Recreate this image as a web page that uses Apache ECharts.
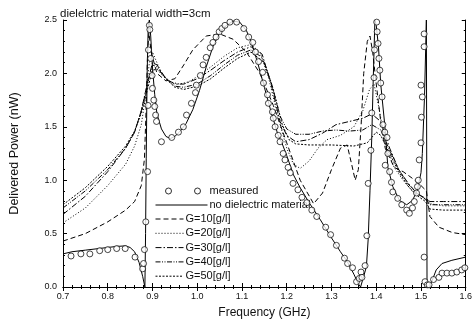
<!DOCTYPE html>
<html><head><meta charset="utf-8">
<script src="https://cdn.jsdelivr.net/npm/echarts@6/dist/echarts.min.js"></script>
<style>html,body{margin:0;padding:0;background:#fff}#c{width:475px;height:327px}</style>
</head><body><div id="c"></div>
<script>
const titleText = "dielelctric material width=3cm";
const xTicks = [0.7,0.8,0.9,1.0,1.1,1.2,1.3,1.4,1.5,1.6];
const yTicks = [0.0,0.5,1.0,1.5,2.0,2.5];

const fMeas = [0.718,0.74,0.76,0.782,0.80,0.82,0.839,0.861,0.878,0.880,0.882,0.885,0.889,0.890,0.891,0.893,0.894,0.896,0.899,0.900,0.903,0.905,0.907,0.909,0.920,0.943,0.958,0.969,0.976,0.987,0.996,0.998,1.007,1.013,1.020,1.029,1.035,1.042,1.049,1.055,1.062,1.073,1.088,1.104,1.115,1.124,1.130,1.137,1.146,1.148,1.157,1.159,1.168,1.170,1.174,1.181,1.185,1.192,1.196,1.203,1.208,1.214,1.225,1.234,1.245,1.256,1.267,1.287,1.298,1.311,1.329,1.336,1.347,1.356,1.362,1.366,1.368,1.375,1.379,1.382,1.388,1.390,1.395,1.396,1.401,1.402,1.404,1.406,1.408,1.410,1.413,1.415,1.419,1.424,1.426,1.420,1.430,1.434,1.437,1.448,1.457,1.468,1.474,1.481,1.485,1.490,1.492,1.494,1.496,1.500,1.501,1.500,1.503,1.507,1.507,1.507,1.509,1.514,1.518,1.528,1.540,1.547,1.558,1.569,1.580,1.591,1.598];
const pMeas = [0.29,0.31,0.31,0.34,0.35,0.36,0.36,0.28,0.17,0.22,0.35,0.61,1.08,1.70,2.22,2.45,2.41,2.14,1.98,1.86,1.75,1.69,1.61,1.55,1.36,1.40,1.45,1.50,1.61,1.72,1.82,1.89,1.98,2.08,2.15,2.24,2.29,2.34,2.39,2.42,2.45,2.48,2.48,2.42,2.34,2.29,2.20,2.11,2.01,1.91,1.80,1.72,1.64,1.58,1.50,1.42,1.36,1.25,1.19,1.12,1.07,0.97,0.91,0.84,0.79,0.72,0.66,0.56,0.49,0.39,0.27,0.22,0.18,0.05,0.08,0.14,0.09,0.20,0.48,0.97,1.28,1.63,1.96,2.22,2.48,2.39,2.28,2.14,2.03,1.91,1.78,1.52,1.45,1.40,1.25,1.14,1.08,0.98,0.89,0.83,0.77,0.72,0.69,0.74,0.80,0.88,0.94,1.00,1.19,1.35,1.59,1.89,1.78,2.25,2.37,0.28,0.05,0.02,0.02,0.07,0.09,0.13,0.13,0.13,0.14,0.16,0.18];

const fNone = [0.70,0.72,0.75,0.78,0.80,0.82,0.84,0.85,0.86,0.87,0.878,0.883,0.8845,0.886,0.888,0.8905,0.893,0.896,0.90,0.905,0.91,0.92,0.93,0.94,0.95,0.96,0.975,0.99,1.005,1.02,1.035,1.05,1.065,1.08,1.095,1.11,1.12,1.135,1.15,1.165,1.18,1.19,1.20,1.215,1.23,1.25,1.275,1.30,1.32,1.335,1.35,1.36,1.365,1.372,1.378,1.382,1.386,1.39,1.393,1.397,1.40,1.405,1.41,1.419,1.426,1.437,1.452,1.468,1.481,1.492,1.50,1.503,1.508,1.512,1.5135,1.523,1.534,1.547,1.569,1.60];
const pNone = [0.31,0.33,0.345,0.36,0.37,0.38,0.385,0.37,0.33,0.23,0.10,0.0,0.5,1.2,2.0,2.45,2.5,2.35,2.05,1.80,1.62,1.48,1.41,1.39,1.41,1.45,1.53,1.66,1.84,2.06,2.25,2.38,2.45,2.49,2.48,2.40,2.30,2.10,1.87,1.64,1.43,1.34,1.23,1.05,0.93,0.79,0.63,0.46,0.33,0.24,0.12,0.03,0.0,0.10,0.19,0.45,0.90,1.40,1.90,2.5,2.45,2.25,1.90,1.52,1.12,0.94,0.81,0.77,0.81,0.91,1.07,1.25,1.8,2.5,0.0,0.04,0.16,0.22,0.25,0.28];

const fG10 = [0.70,0.75,0.80,0.84,0.86,0.875,0.882,0.886,0.889,0.892,0.897,0.91,0.93,0.95,0.97,0.99,1.02,1.05,1.08,1.11,1.14,1.17,1.20,1.23,1.26,1.28,1.30,1.32,1.335,1.345,1.353,1.36,1.366,1.372,1.38,1.386,1.392,1.40,1.41,1.42,1.44,1.46,1.48,1.50,1.512,1.52,1.54,1.57,1.60];
const pG10 = [0.43,0.50,0.61,0.72,0.80,0.95,1.20,1.70,2.20,2.38,2.20,2.00,1.93,1.95,2.08,2.22,2.35,2.37,2.32,2.20,2.00,1.70,1.35,1.00,0.78,0.88,1.10,1.30,1.33,1.15,1.00,1.10,1.50,2.00,2.30,2.35,2.20,1.90,1.55,1.30,1.12,1.08,1.02,0.95,0.90,0.66,0.56,0.51,0.49];

const fG20 = [0.70,0.75,0.80,0.84,0.86,0.875,0.885,0.893,0.90,0.92,0.94,0.96,0.98,1.00,1.03,1.06,1.09,1.12,1.14,1.16,1.18,1.20,1.215,1.23,1.25,1.27,1.29,1.32,1.35,1.37,1.385,1.395,1.405,1.42,1.44,1.46,1.48,1.50,1.512,1.52,1.55,1.60];
const pG20 = [0.60,0.74,0.95,1.15,1.32,1.52,1.80,2.10,2.20,2.00,1.92,1.90,1.92,1.97,2.06,2.16,2.24,2.27,2.20,1.95,1.60,1.30,1.15,1.11,1.18,1.30,1.38,1.42,1.50,1.65,1.85,1.90,1.70,1.35,1.12,1.00,0.90,0.85,0.82,0.78,0.76,0.76];

const fG30 = [0.70,0.75,0.80,0.84,0.86,0.875,0.888,0.90,0.91,0.93,0.95,0.97,1.00,1.03,1.06,1.09,1.12,1.145,1.165,1.185,1.20,1.22,1.25,1.28,1.31,1.34,1.37,1.39,1.41,1.43,1.45,1.47,1.49,1.51,1.52,1.55,1.60];
const pG30 = [0.68,0.85,1.08,1.30,1.45,1.65,1.90,2.10,2.08,1.95,1.90,1.90,1.95,2.03,2.12,2.20,2.25,2.18,1.90,1.55,1.42,1.36,1.38,1.44,1.52,1.55,1.58,1.62,1.55,1.30,1.10,0.98,0.88,0.83,0.80,0.80,0.80];

const fG40 = [0.70,0.75,0.80,0.84,0.86,0.875,0.888,0.90,0.91,0.93,0.95,0.97,1.00,1.03,1.06,1.09,1.12,1.145,1.165,1.185,1.20,1.22,1.25,1.28,1.31,1.34,1.37,1.39,1.41,1.43,1.45,1.47,1.49,1.51,1.52,1.55,1.60];
const pG40 = [0.74,0.90,1.10,1.30,1.45,1.65,1.88,2.08,2.06,1.95,1.88,1.87,1.90,1.98,2.08,2.17,2.22,2.15,1.92,1.60,1.48,1.43,1.43,1.46,1.47,1.46,1.47,1.52,1.47,1.28,1.10,0.97,0.88,0.82,0.77,0.77,0.77];

const fG50 = [0.70,0.75,0.80,0.84,0.86,0.875,0.888,0.90,0.91,0.93,0.95,0.97,1.00,1.03,1.06,1.09,1.12,1.15,1.17,1.19,1.205,1.22,1.25,1.30,1.35,1.38,1.40,1.41,1.43,1.45,1.47,1.49,1.51,1.52,1.55,1.60];
const pG50 = [0.77,0.93,1.13,1.32,1.46,1.63,1.84,2.03,2.04,1.95,1.87,1.85,1.88,1.95,2.05,2.14,2.20,2.10,1.85,1.52,1.38,1.34,1.33,1.33,1.32,1.35,1.45,1.42,1.25,1.08,0.95,0.86,0.80,0.73,0.72,0.72,0.72];

const pair = (f, p) => f.map((v, i) => [v, p[i]]);
const font = 'Liberation Sans, Arial, sans-serif';

function lineSeries(name, f, p, dash) {
  return { name, type: 'line', data: pair(f, p), symbol: 'none', showSymbol: false,
    lineStyle: { color: '#000', width: 1, type: dash }, itemStyle: { color: '#000' },
    animation: false, z: 3 };
}
const lineItem = name => ({ name, itemStyle: { opacity: 0 }, lineStyle: { width: 1 } });
const twoCircles = 'path://M0,0M52,9M10,4.5a3,3 0 1,0 6,0a3,3 0 1,0 -6,0M39,4.5a3,3 0 1,0 6,0a3,3 0 1,0 -6,0';

const chart = echarts.init(document.getElementById('c'), null, { renderer: 'canvas' });
const axisCommon = {
  axisLine: { show: true, lineStyle: { color: '#000', width: 1 } },
  axisTick: { show: true, inside: true, length: 4, lineStyle: { color: '#000' } },
  minorTick: { show: true, splitNumber: 5, length: 2, lineStyle: { color: '#000' } },
  splitLine: { show: false }
};
const legendText = { fontFamily: font, fontSize: 11, lineHeight: 12, color: '#111', padding: [0,0,0,-3] };
chart.setOption({
  animation: false,
  backgroundColor: '#fff',
  title: { text: titleText, left: 55, top: 3,
    textStyle: { fontFamily: font, fontSize: 11.5, fontWeight: 'normal', color: '#111' } },
  grid: { left: 59, right: 8, top: 20, bottom: 40, containLabel: false },
  legend: [
    { data: [{ name: 'measured', icon: twoCircles, itemStyle: { color: '#fff', borderColor: '#000', borderWidth: 1 } },
             lineItem('no dielectric material')], orient: 'vertical', left: 150, top: 180,
      itemWidth: 52, itemHeight: 9, itemGap: 2, textStyle: legendText },
    { data: ['G=10[g/l]', 'G=20[g/l]', 'G=30[g/l]', 'G=40[g/l]', 'G=50[g/l]'].map(lineItem), orient: 'vertical',
      left: 150, top: 208, itemWidth: 28, itemHeight: 9, itemGap: 2.3, textStyle: legendText }
  ],
  xAxis: [
    Object.assign({ type: 'value', min: xTicks[0], max: xTicks[xTicks.length-1], interval: 0.1,
      name: 'Frequency (GHz)', nameLocation: 'middle', nameGap: 20,
      nameTextStyle: { fontFamily: font, fontSize: 12, color: '#111' },
      axisLabel: { fontFamily: font, fontSize: 9, color: '#111', margin: 5,
        formatter: v => v.toFixed(1) } }, axisCommon),
    Object.assign({ type: 'value', position: 'top', min: xTicks[0], max: xTicks[xTicks.length-1], interval: 0.1,
      axisLabel: { show: false } }, axisCommon)
  ],
  yAxis: [
    Object.assign({ type: 'value', min: yTicks[0], max: yTicks[yTicks.length-1], interval: 0.5,
      name: 'Delivered Power (nW)', nameLocation: 'middle', nameGap: 42,
      nameTextStyle: { fontFamily: font, fontSize: 12.5, color: '#111' },
      axisLabel: { fontFamily: font, fontSize: 9, color: '#111', margin: 6,
        formatter: v => v.toFixed(1) } }, axisCommon),
    Object.assign({ type: 'value', position: 'right', min: yTicks[0], max: yTicks[yTicks.length-1], interval: 0.5,
      axisLabel: { show: false } }, axisCommon)
  ],
  series: [
    { name: 'measured', type: 'scatter', data: pair(fMeas, pMeas), symbol: 'circle', symbolSize: 6,
      itemStyle: { color: '#fff', borderColor: '#000', borderWidth: 0.9 }, z: 4, clip: true },
    lineSeries('no dielectric material', fNone, pNone, 'solid'),
    lineSeries('G=10[g/l]', fG10, pG10, [5, 3]),
    lineSeries('G=20[g/l]', fG20, pG20, [1, 2]),
    lineSeries('G=30[g/l]', fG30, pG30, [6, 2, 1.5, 2]),
    lineSeries('G=40[g/l]', fG40, pG40, [5, 1.5, 1, 1.5, 1, 1.5]),
    lineSeries('G=50[g/l]', fG50, pG50, [2, 1.5])
  ]
});
</script></body></html>
